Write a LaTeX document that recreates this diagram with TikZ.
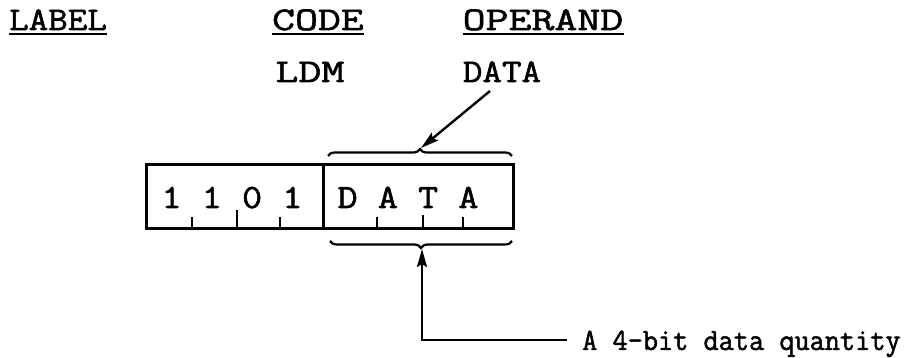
\documentclass[tikz,border=0pt]{standalone}
\usepackage{fontspec}
\usetikzlibrary{arrows.meta,decorations.pathreplacing}
\newfontfamily\twfont[FakeStretch=1.15,FakeBold=1.8]{Latin Modern Mono}
\newfontfamily\twwfont[FakeStretch=1.35,FakeBold=1.8]{Latin Modern Mono}
\newfontfamily\twcfont[FakeStretch=0.95,FakeBold=1.6]{Latin Modern Mono}
\begin{document}
\begin{tikzpicture}[x=1pt,y=-1pt,
  hdr/.style={font=\twfont\fontsize{33}{33}\selectfont, inner sep=0pt, anchor=base},
  hdrw/.style={font=\twwfont\fontsize{33}{33}\selectfont, inner sep=0pt, anchor=base},
  cell/.style={font=\twfont\fontsize{34}{34}\selectfont, inner sep=0pt, anchor=base},
  note/.style={font=\twcfont\fontsize{31}{31}\selectfont, inner sep=0pt, anchor=base west},
  uline/.style={line width=2.2pt},
  field/.style={draw, line width=3pt, inner sep=0pt, minimum height=64pt},
  tickline/.style={line width=2.8pt},
  brc/.style={line width=2.2pt, decorate, decoration={brace, amplitude=7pt}},
  arr/.style={line width=2.4pt, -{Stealth[length=18pt,width=10pt,inset=3pt]}}
]
\useasboundingbox (0,0) rectangle (906,358);
% headings
\node[hdr] (label) at (58,30) {LABEL};
\node[hdrw] (code) at (318,30) {CODE};
\node[hdrw] (operand) at (543,30) {OPERAND};
\foreach \n in {label,code,operand}
  \draw[uline] ([yshift=-4pt]\n.base west) -- ([yshift=-4pt]\n.base east);
\node[hdrw] (ldm) at (310,82) {LDM};
\node[hdr] (data) at (502,82) {DATA};
% instruction word
\node[field, minimum width=177pt] (opcode) at (234.5,197) {};
\node[field, minimum width=190pt] (opdata) at (418,197) {};
\node[cell] (bits) at (232,208) {1 1 0 1};
\node[cell] (dtext) at (408,208) {D A T A};
% ticks
\draw[tickline] (192,229) -- (192,217);
\draw[tickline] (237,229) -- (237,210);
\draw[tickline] (280,229) -- (280,217);
\draw[tickline] (377,229) -- (377,217);
\draw[tickline] (423,229) -- (423,215);
\draw[tickline] (463,229) -- (463,217);
% braces
\coordinate (tbl) at (328,156);
\coordinate (tbr) at (512,156);
\draw[brc] (tbl) -- (tbr);
\coordinate (bbr) at (512,241);
\coordinate (bbl) at (330,241);
\draw[brc] (bbr) -- (bbl);
% arrows
\coordinate (a1s) at (490,91);
\coordinate (a1e) at (421,148);
\draw[arr] (a1s) -- (a1e);
\node[note] (qty) at (582,350) {A 4-bit data quantity};
\coordinate (a2s) at (567,340);
\coordinate (a2e) at (422,249);
\draw[arr] (a2s) -| (a2e);
\end{tikzpicture}
\end{document}
